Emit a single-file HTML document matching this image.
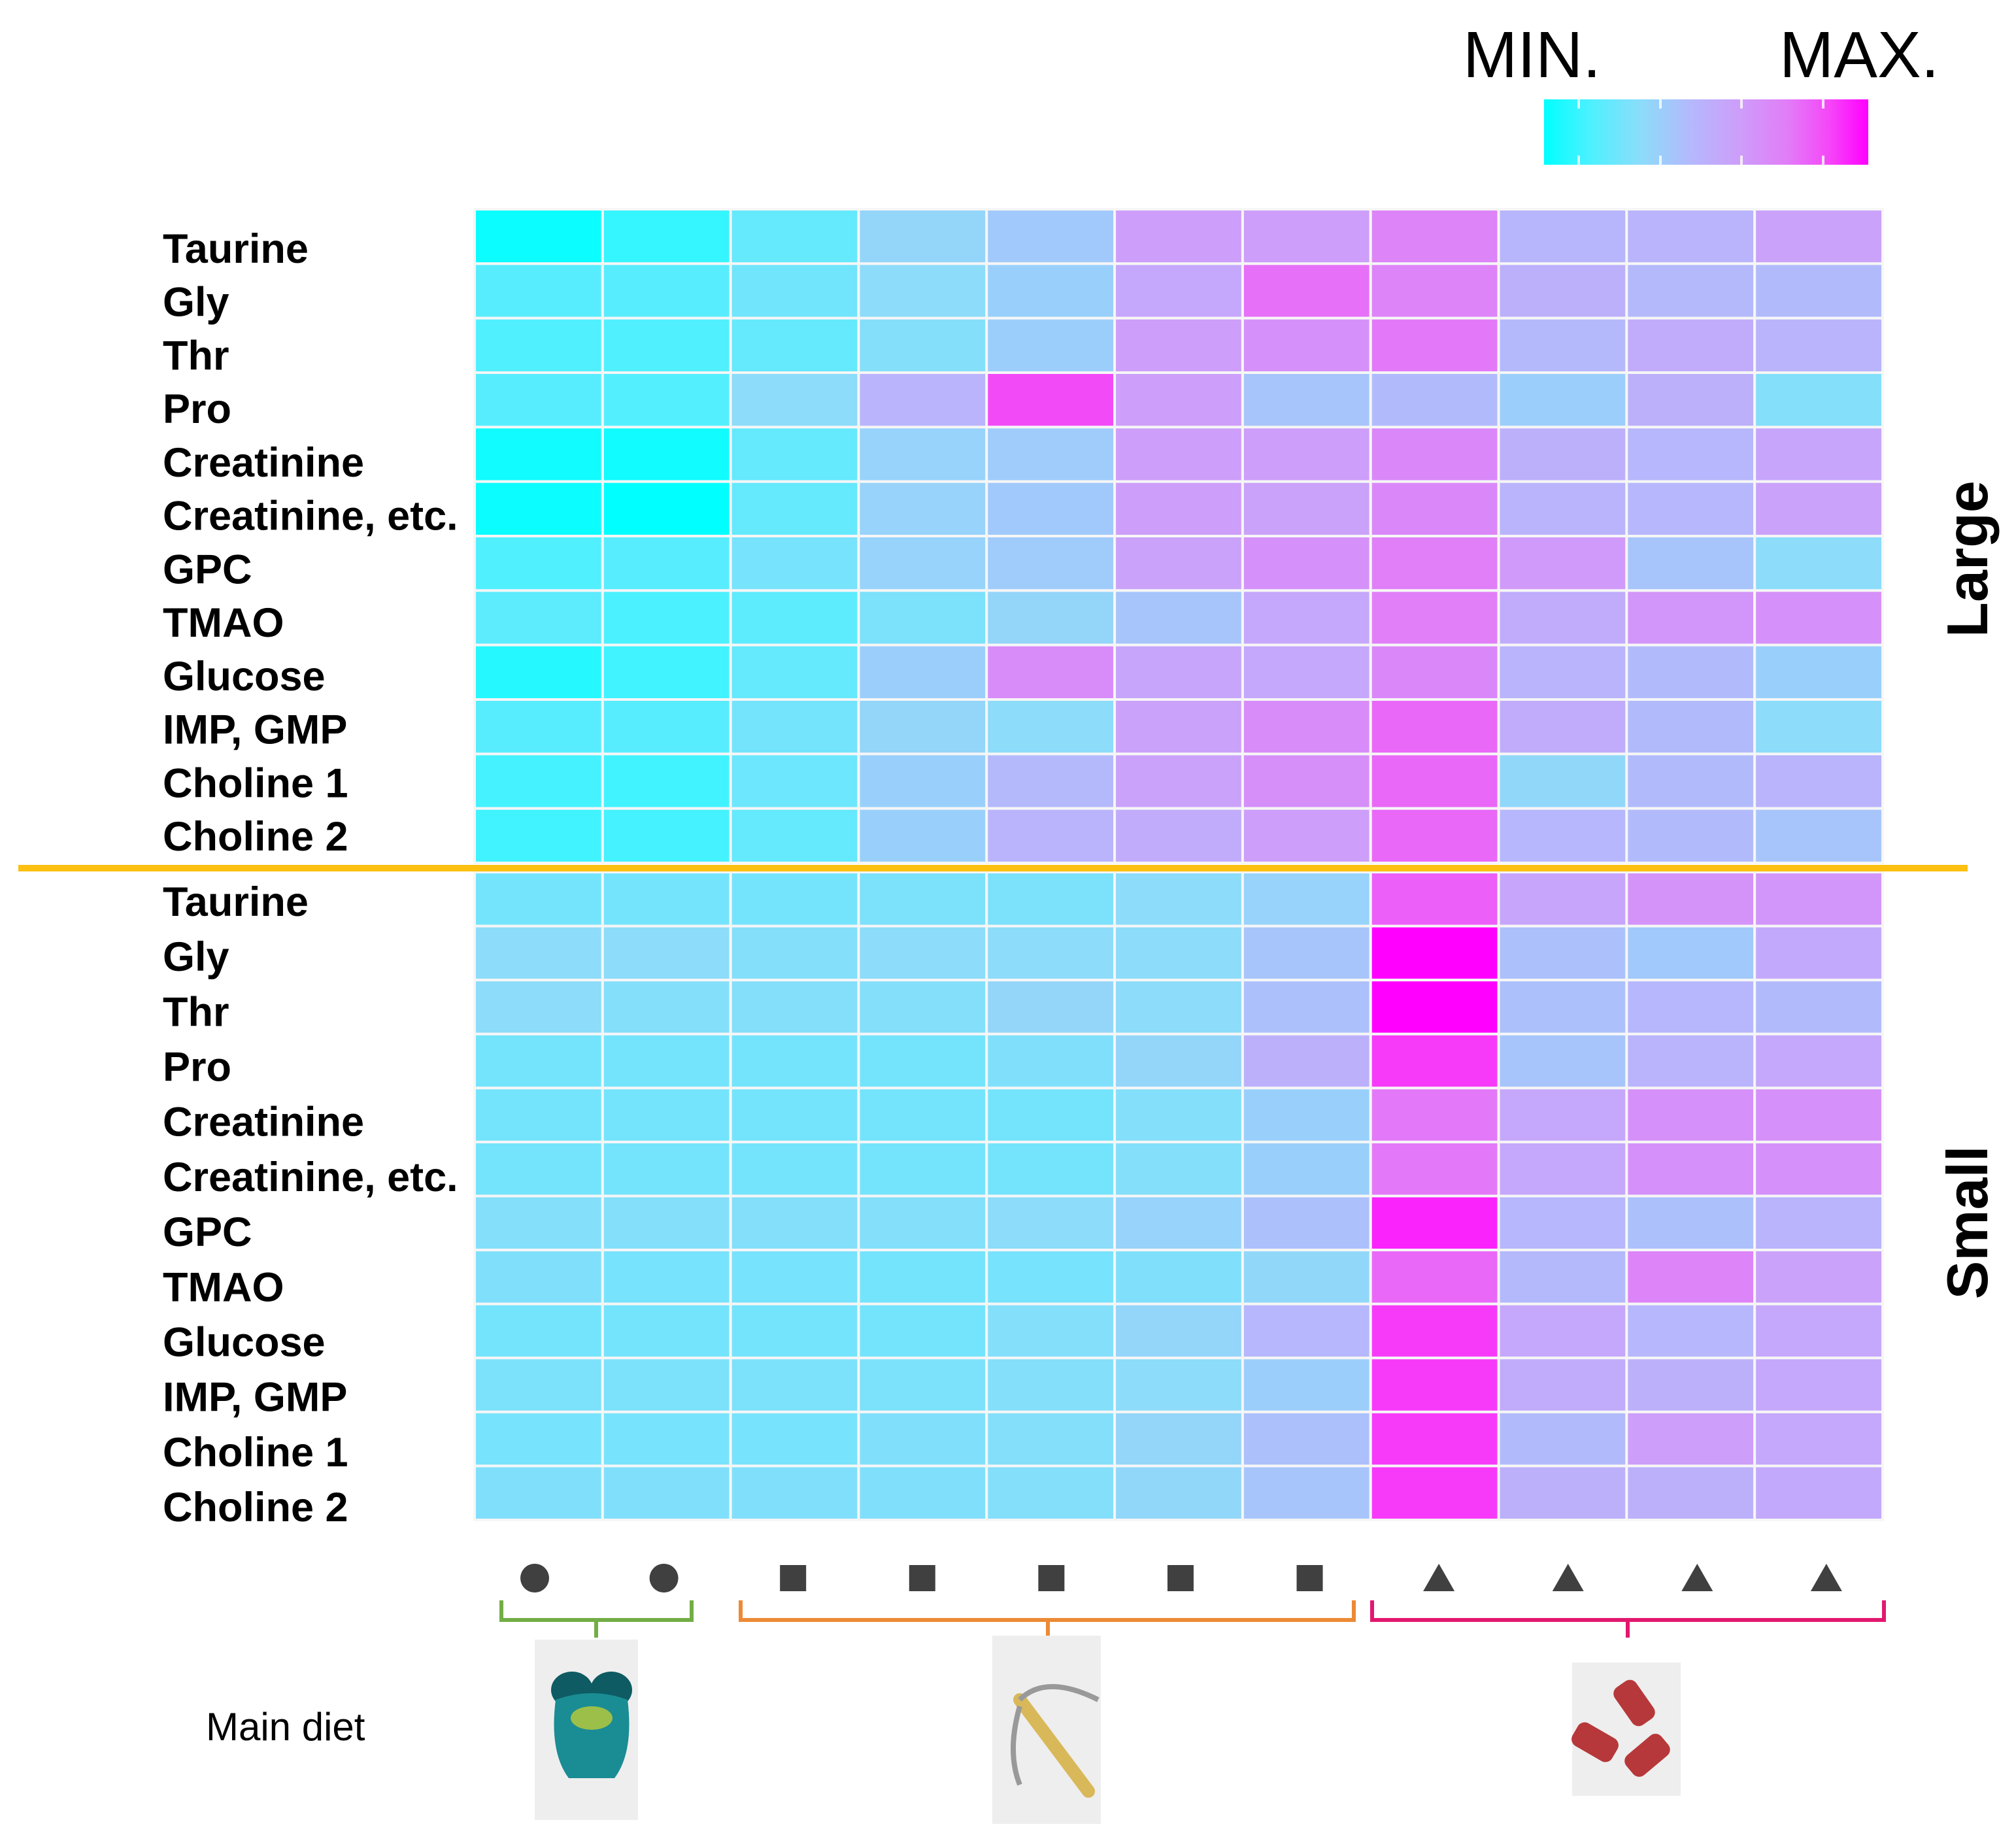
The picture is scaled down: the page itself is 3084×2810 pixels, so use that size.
<!DOCTYPE html>
<html><head><meta charset="utf-8">
<style>
html,body{margin:0;padding:0;background:#fff;}
svg{display:block;font-family:"Liberation Sans",Arial,sans-serif;}
</style></head>
<body>
<svg id="chart" width="3084" height="2810" viewBox="0 0 3084 2810" xmlns="http://www.w3.org/2000/svg">
  <defs>
    <linearGradient id="cbar" x1="0" x2="1" y1="0" y2="0">
      <stop offset="0" stop-color="#00ffff"/>
      <stop offset="0.15" stop-color="#50f0ff"/>
      <stop offset="0.3" stop-color="#8cdcfa"/>
      <stop offset="0.45" stop-color="#b4b9fc"/>
      <stop offset="0.6" stop-color="#cd9efa"/>
      <stop offset="0.75" stop-color="#e17df8"/>
      <stop offset="0.88" stop-color="#f546f8"/>
      <stop offset="1" stop-color="#ff00ff"/>
    </linearGradient>
  </defs>
  <g>
    <text x="2238" y="118" font-size="100">MIN.</text>
    <text x="2722" y="118" font-size="100">MAX.</text>
    <rect x="2362" y="152" width="496" height="100" fill="url(#cbar)"/>
    <g stroke="#fff" stroke-width="4" opacity="0.8">
      <line x1="2415" y1="152" x2="2415" y2="166"/><line x1="2415" y1="238" x2="2415" y2="252"/>
      <line x1="2540" y1="152" x2="2540" y2="166"/><line x1="2540" y1="238" x2="2540" y2="252"/>
      <line x1="2664" y1="152" x2="2664" y2="166"/><line x1="2664" y1="238" x2="2664" y2="252"/>
      <line x1="2789" y1="152" x2="2789" y2="166"/><line x1="2789" y1="238" x2="2789" y2="252"/>
    </g>
  </g>
  <g id="cells"></g>
  <g id="labels"></g>
  <rect x="28" y="1323" width="2982" height="10" fill="#fbc010"/>
  <text transform="translate(3040,855) rotate(-90)" text-anchor="middle" font-size="88" font-weight="bold">Large</text>
  <text transform="translate(3040,1870) rotate(-90)" text-anchor="middle" font-size="88" font-weight="bold">Small</text>
  <g id="markers"></g>
  <g fill="none" stroke-width="6">
    <path d="M767,2448 V2478 H1058 V2448 M912,2478 V2505" stroke="#72ad45"/>
    <path d="M1133,2448 V2478 H2071 V2448 M1603,2478 V2505" stroke="#ec8a35"/>
    <path d="M2099,2448 V2478 H2882 V2448 M2490,2478 V2505" stroke="#e2186e"/>
  </g>
  <text x="315" y="2662" font-size="60">Main diet</text>
  <g>
    <rect x="818" y="2508" width="158" height="276" fill="#eeeeee"/>
    <ellipse cx="875" cy="2585" rx="32" ry="28" fill="#0e5b63"/>
    <ellipse cx="935" cy="2585" rx="32" ry="28" fill="#0e5b63"/>
    <path d="M850,2600 Q905,2580 960,2600 Q970,2680 940,2720 L870,2720 Q840,2680 850,2600Z" fill="#1a8c94"/>
    <ellipse cx="905" cy="2628" rx="32" ry="18" fill="#9cbf4a"/>
  </g>
  <g>
    <rect x="1518" y="2502" width="166" height="288" fill="#eeeeee"/>
    <path d="M1560,2600 L1665,2740" stroke="#d9b85a" stroke-width="20" stroke-linecap="round"/>
    <path d="M1560,2600 Q1600,2560 1680,2600 M1560,2610 Q1540,2680 1560,2730" stroke="#999" stroke-width="8" fill="none"/>
  </g>
  <g>
    <rect x="2405" y="2543" width="166" height="204" fill="#eeeeee"/>
    <rect x="2480" y="2570" width="40" height="70" rx="12" fill="#b7383a" transform="rotate(-35 2500 2605)"/>
    <rect x="2420" y="2630" width="40" height="70" rx="12" fill="#b7383a" transform="rotate(-60 2440 2665)"/>
    <rect x="2500" y="2650" width="40" height="70" rx="12" fill="#b7383a" transform="rotate(50 2520 2685)"/>
  </g>
</svg>
<script>
const rowNames = ["Taurine","Gly","Thr","Pro","Creatinine","Creatinine, etc.","GPC","TMAO","Glucose","IMP, GMP","Choline 1","Choline 2"];
const dietMarkers = ["circle","circle","square","square","square","square","square","triangle","triangle","triangle","triangle"];
const largeValues = [
[0.02,0.10,0.20,0.33,0.38,0.60,0.60,0.72,0.47,0.48,0.58],
[0.17,0.17,0.23,0.30,0.35,0.55,0.78,0.72,0.50,0.45,0.44],
[0.15,0.15,0.20,0.28,0.36,0.60,0.66,0.76,0.45,0.52,0.48],
[0.17,0.16,0.30,0.48,0.87,0.60,0.40,0.44,0.36,0.50,0.28],
[0.03,0.03,0.20,0.34,0.37,0.60,0.60,0.70,0.50,0.46,0.56],
[0.02,0.00,0.20,0.34,0.38,0.60,0.58,0.70,0.48,0.46,0.58],
[0.15,0.17,0.25,0.34,0.37,0.58,0.66,0.74,0.62,0.40,0.30],
[0.18,0.14,0.18,0.26,0.33,0.40,0.55,0.74,0.52,0.64,0.66],
[0.07,0.12,0.20,0.36,0.68,0.56,0.55,0.70,0.48,0.44,0.35],
[0.17,0.17,0.24,0.33,0.30,0.58,0.68,0.80,0.52,0.44,0.30],
[0.13,0.12,0.22,0.35,0.45,0.58,0.67,0.80,0.32,0.44,0.48],
[0.12,0.13,0.20,0.35,0.48,0.53,0.60,0.80,0.46,0.44,0.40]];
const smallValues = [
[0.24,0.24,0.24,0.26,0.26,0.30,0.34,0.82,0.56,0.65,0.64],
[0.30,0.30,0.28,0.30,0.30,0.30,0.40,1.00,0.42,0.38,0.54],
[0.30,0.28,0.28,0.28,0.33,0.30,0.42,1.00,0.42,0.46,0.44],
[0.24,0.24,0.24,0.24,0.27,0.33,0.50,0.90,0.40,0.48,0.55],
[0.24,0.24,0.24,0.24,0.24,0.28,0.35,0.76,0.55,0.66,0.66],
[0.24,0.24,0.24,0.24,0.24,0.28,0.35,0.76,0.55,0.66,0.66],
[0.28,0.28,0.28,0.28,0.30,0.34,0.42,0.94,0.46,0.42,0.48],
[0.27,0.25,0.25,0.24,0.25,0.27,0.32,0.80,0.45,0.72,0.58],
[0.24,0.24,0.24,0.24,0.28,0.33,0.46,0.90,0.55,0.46,0.55],
[0.26,0.26,0.26,0.26,0.28,0.30,0.36,0.90,0.52,0.50,0.55],
[0.25,0.25,0.25,0.27,0.28,0.33,0.42,0.90,0.44,0.60,0.55],
[0.27,0.27,0.27,0.27,0.28,0.32,0.40,0.90,0.50,0.50,0.54]];

const NS="http://www.w3.org/2000/svg";
const stops=[[0,[0,255,255]],[0.15,[80,240,255]],[0.3,[140,220,250]],[0.45,[180,185,252]],[0.6,[205,158,250]],[0.75,[225,125,248]],[0.88,[245,70,248]],[1,[255,0,255]]];
function color(v){v=Math.max(0,Math.min(1,v));for(let i=1;i<stops.length;i++){if(v<=stops[i][0]){const a=stops[i-1],b=stops[i];const t=(v-a[0])/(b[0]-a[0]);const c=a[1].map((x,k)=>Math.round(x+(b[1][k]-x)*t));return `rgb(${c})`;}}return "rgb(255,0,255)";}
const X0=726,X1=2880,ncol=11,cw=(X1-X0)/ncol;
function xScale(i){return X0+i*cw;}
const panels=[{name:"large",vals:largeValues,y0:320,y1:1320,l0:380,l1:1279},{name:"small",vals:smallValues,y0:1334,y1:2325,l0:1379,l1:2305}];
const cells=document.getElementById('cells'),labels=document.getElementById('labels');
panels.forEach(p=>{
  const rh=(p.y1-p.y0)/rowNames.length;
  const yScale=r=>p.y0+r*rh;
  const ls=(p.l1-p.l0)/(rowNames.length-1);
  p.vals.forEach((row,r)=>{
    row.forEach((v,c)=>{
      const el=document.createElementNS(NS,'rect');
      el.setAttribute('x',xScale(c));el.setAttribute('y',yScale(r));
      el.setAttribute('width',cw);el.setAttribute('height',rh);
      el.setAttribute('fill',color(v));el.setAttribute('stroke','#f6f6f6');el.setAttribute('stroke-width','4');
      
      
      cells.appendChild(el);
    });
    const t=document.createElementNS(NS,'text');
    t.setAttribute('x',249);t.setAttribute('y',p.l0+r*ls+22);
    t.setAttribute('font-size','63');t.setAttribute('font-weight','bold');
    t.textContent=rowNames[r];
    
    
    labels.appendChild(t);
  });
});
const mk=document.getElementById('markers');
dietMarkers.forEach((m,i)=>{
  const cx=xScale(i)+cw/2+(-3+0.9*i)*1.967,cy=2414;let el;
  if(m==="circle"){el=document.createElementNS(NS,'circle');el.setAttribute('cx',cx);el.setAttribute('cy',cy);el.setAttribute('r',22);}
  else if(m==="square"){el=document.createElementNS(NS,'rect');el.setAttribute('x',cx-20);el.setAttribute('y',cy-20);el.setAttribute('width',40);el.setAttribute('height',40);}
  else{el=document.createElementNS(NS,'polygon');el.setAttribute('points',`${cx},${cy-22} ${cx+24},${cy+20} ${cx-24},${cy+20}`);}
  el.setAttribute('fill','#404040');
  
  
  mk.appendChild(el);
});
</script>
</body></html>
